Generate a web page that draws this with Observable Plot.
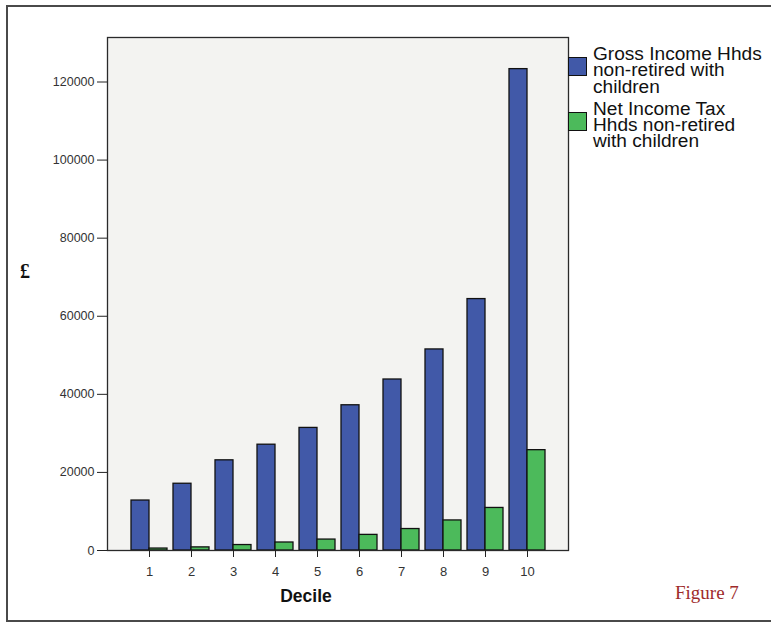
<!DOCTYPE html>
<html>
<head>
<meta charset="utf-8">
<script src="https://cdn.jsdelivr.net/npm/d3@7"></script>
<script src="https://cdn.jsdelivr.net/npm/@observablehq/plot@0.6"></script>
<style>
html, body { margin: 0; padding: 0; background: #fff; }
#wrap { position: relative; width: 771px; height: 623px; overflow: hidden; font-family: "Liberation Sans", Arial, sans-serif; }
#chart { position: absolute; left: 0; top: 0; }
#border { position: absolute; left: 6px; top: 5px; width: 800px; height: 617px; border: 2px solid #4a4a4a; border-right: none; box-sizing: border-box; }
.sw { position: absolute; width: 19px; height: 19px; border: 1.5px solid #111; box-sizing: border-box; }
.ln { position: absolute; left: 593px; height: 14px; font-size: 17.6px; line-height: 14px; color: #111; white-space: nowrap; transform: scaleX(1.085); transform-origin: left center; }
#ylab { position: absolute; left: 20px; top: 261px; font-family: "Liberation Serif", serif; font-weight: bold; font-size: 20px; line-height: 20px; color: #111; }
#xlab { position: absolute; left: 206px; width: 200px; text-align: center; top: 588px; font-weight: bold; font-size: 17.5px; line-height: 17.5px; color: #111; }
#fig { position: absolute; left: 675px; top: 583px; font-family: "Liberation Serif", serif; font-size: 19px; line-height: 19px; color: #9e2b2b; }
</style>
</head>
<body>
<div id="wrap">
  <div id="chart"></div>
  <div id="border"></div>
  <div class="sw" style="left:568px;top:57px;background:#4159a8;"></div>
  <div class="ln" style="top:47px;">Gross Income Hhds</div>
  <div class="ln" style="top:63.3px;">non-retired with</div>
  <div class="ln" style="top:79.6px;">children</div>
  <div class="sw" style="left:568px;top:112px;background:#4cba5b;"></div>
  <div class="ln" style="top:102px;">Net Income Tax</div>
  <div class="ln" style="top:118px;">Hhds non-retired</div>
  <div class="ln" style="top:134px;">with children</div>
  <div id="ylab">£</div>
  <div id="xlab">Decile</div>
  <div id="fig">Figure 7</div>
</div>
<script>
const deciles = [1, 2, 3, 4, 5, 6, 7, 8, 9, 10];
const grossIncome = [12800, 17100, 23100, 27100, 31400, 37200, 43800, 51500, 64400, 123300];
const netIncomeTax = [500, 800, 1400, 2050, 2800, 4000, 5500, 7700, 10900, 25700];
const yTicks = [0, 20000, 40000, 60000, 80000, 100000, 120000];
const seriesColors = ["#4159a8", "#4cba5b"];

const data = deciles.map((d, i) => ({decile: d, gross: grossIncome[i], net: netIncomeTax[i]}));

const plot = Plot.plot({
  width: 771,
  height: 623,
  marginLeft: 107,
  marginRight: 203,
  marginTop: 37,
  marginBottom: 73,
  style: {fontFamily: "'Liberation Sans', Arial, sans-serif", fontSize: "12.5px", color: "#333", background: "transparent"},
  x: {type: "band", domain: deciles, paddingInner: 0.15, paddingOuter: 0.525, align: 0.5, label: null},
  y: {domain: [0, 131400], label: null},
  marks: [
    Plot.frame({fill: "#f3f3f1", stroke: "none"}),
    Plot.barY(data, {x: "decile", y: "gross", insetRight: 18, fill: seriesColors[0], stroke: "#111", strokeWidth: 1.3}),
    Plot.barY(data, {x: "decile", y: "net", insetLeft: 18, fill: seriesColors[1], stroke: "#111", strokeWidth: 1.3}),
    Plot.frame({stroke: "#2a2a2a", strokeWidth: 1.3}),
    Plot.axisY({ticks: yTicks, tickFormat: d => String(d), tickSize: 10, tickPadding: 3, stroke: "#222", label: null}),
    Plot.axisX({tickSize: 7, tickPadding: 9, fontSize: 13, stroke: "#222", label: null})
  ]
});
document.getElementById("chart").appendChild(plot);
</script>
</body>
</html>
